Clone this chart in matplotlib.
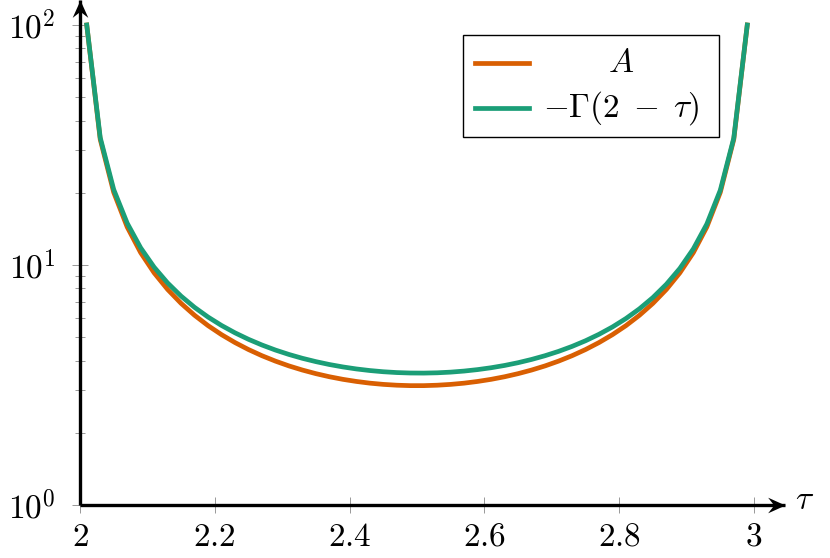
import numpy as np
import matplotlib
matplotlib.use("Agg")
import matplotlib.pyplot as plt
from matplotlib.lines import Line2D
from matplotlib.patches import Rectangle
from matplotlib.path import Path
from matplotlib.ticker import FixedLocator, NullFormatter

plt.rcParams['mathtext.fontset'] = 'cm'
plt.rcParams['font.family'] = ['DejaVu Serif']

# data (samples every 0.02 from 2.01 to 2.99)
tau = [2.01, 2.03, 2.05, 2.07, 2.09, 2.11, 2.13, 2.15, 2.17, 2.19,
       2.21, 2.23, 2.25, 2.27, 2.29, 2.31, 2.33, 2.35, 2.37, 2.39,
       2.41, 2.43, 2.45, 2.47, 2.49, 2.51, 2.53, 2.55, 2.57, 2.59,
       2.61, 2.63, 2.65, 2.67, 2.69, 2.71, 2.73, 2.75, 2.77, 2.79,
       2.81, 2.83, 2.85, 2.87, 2.89, 2.91, 2.93, 2.95, 2.97, 2.99]
A_vals = [100.0, 33.38, 20.08, 14.40, 11.26, 9.274, 7.910, 6.920, 6.172, 5.589,
          5.126, 4.751, 4.443, 4.188, 3.976, 3.798, 3.650, 3.526, 3.423, 3.339,
          3.272, 3.219, 3.181, 3.156, 3.143, 3.143, 3.156, 3.181, 3.219, 3.272,
          3.339, 3.423, 3.526, 3.650, 3.798, 3.976, 4.188, 4.443, 4.751, 5.126,
          5.589, 6.172, 6.920, 7.910, 9.274, 11.26, 14.40, 20.08, 33.38, 100.0]
G_vals = [100.0, 33.94, 20.63, 14.94, 11.79, 9.789, 8.416, 7.417, 6.660, 6.069,
          5.598, 5.216, 4.902, 4.641, 4.422, 4.239, 4.085, 3.957, 3.849, 3.761,
          3.689, 3.633, 3.591, 3.563, 3.548, 3.545, 3.555, 3.578, 3.615, 3.666,
          3.732, 3.815, 3.917, 4.041, 4.189, 4.366, 4.579, 4.834, 5.143, 5.519,
          5.984, 6.568, 7.318, 8.311, 9.677, 11.67, 14.81, 20.50, 33.80, 100.0]
labels = [r"$A$", r"$-\Gamma(2\;-\;\tau)$"]
colors = ["#D95F02", "#1B9E77"]
xticks = [2.0, 2.2, 2.4, 2.6, 2.8, 3.0]
xticklabels = ["2", "2.2", "2.4", "2.6", "2.8", "3"]
yticks = [1, 10, 100]
yticklabels = [r"$10^{0}$", r"$10^{1}$", r"$10^{2}$"]

W, H = 830, 558
fig = plt.figure(figsize=(W / 100, H / 100), dpi=100)
ax = fig.add_axes([80 / W, 53 / H, 705 / W, 505 / H])
ax.set_yscale('log')
ax.set_xlim(2, 2 + 705 / 674)
ax.set_ylim(1, 10 ** (505 / 240))

ax.plot(tau, A_vals, color=colors[0], lw=3.4, solid_joinstyle='round', zorder=3)
ax.plot(tau, G_vals, color=colors[1], lw=3.4, solid_joinstyle='round', zorder=4)

for s in ax.spines.values():
    s.set_visible(False)

# axis lines with stealth arrow heads
ax.plot([0, 1], [0, 0], transform=ax.transAxes, color='k', lw=2.4,
        solid_capstyle='butt', clip_on=False, zorder=5)
ax.plot([0, 0], [0, 1], transform=ax.transAxes, color='k', lw=2.4,
        solid_capstyle='butt', clip_on=False, zorder=5)
head_x = Path([(0, 0), (-2, 0.9), (-1.3, 0), (-2, -0.9), (0, 0)],
              [Path.MOVETO, Path.LINETO, Path.LINETO, Path.LINETO, Path.CLOSEPOLY])
head_y = Path([(0, 0), (0.9, -2), (0, -1.3), (-0.9, -2), (0, 0)],
              [Path.MOVETO, Path.LINETO, Path.LINETO, Path.LINETO, Path.CLOSEPOLY])
ax.plot([1], [0], transform=ax.transAxes, marker=head_x, markersize=25,
        color='k', mew=0, clip_on=False, zorder=6)
ax.plot([0], [1], transform=ax.transAxes, marker=head_y, markersize=25,
        color='k', mew=0, clip_on=False, zorder=6)

ax.set_xticks(xticks)
ax.set_xticklabels([r"$%s$" % t for t in xticklabels], fontsize=24)
ax.set_yticks(yticks)
ax.set_yticklabels(yticklabels, fontsize=24)
minors = [m * 10 ** d for d in range(0, 2) for m in range(2, 10)]
ax.yaxis.set_minor_locator(FixedLocator(minors))
ax.yaxis.set_minor_formatter(NullFormatter())
ax.tick_params(axis='both', which='major', direction='inout', length=11, width=0.6,
               color='#888888')
ax.tick_params(axis='x', which='major', pad=6)
ax.tick_params(axis='y', which='major', pad=12)
ax.tick_params(axis='y', which='minor', direction='inout', length=7, width=0.6,
               color='#888888')

fig.text(805 / W, 1 - 500 / H, r"$\tau$", fontsize=24, ha='center', va='center')

# legend
fig.patches.append(Rectangle((463 / W, 1 - 137 / H), (719 - 463) / W, (137 - 35) / H,
                             transform=fig.transFigure, facecolor='white',
                             edgecolor='black', lw=1.0, zorder=6))
rows = [63, 108]
for lab, c, ry in zip(labels, colors, rows):
    fig.lines.append(Line2D([475 / W, 529 / W], [1 - ry / H, 1 - ry / H],
                            transform=fig.transFigure, color=c, lw=3.4, zorder=7))
    fig.text(621 / W, 1 - ry / H, lab, fontsize=24, ha='center', va='center', zorder=8)

fig.savefig("out.png", dpi=100)
